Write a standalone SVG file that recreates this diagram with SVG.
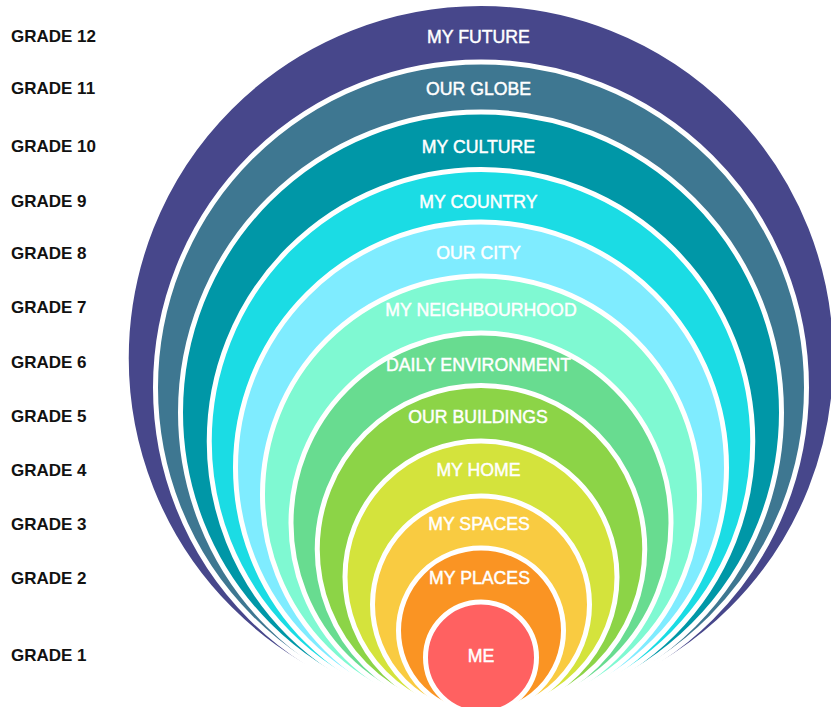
<svg xmlns="http://www.w3.org/2000/svg" width="831" height="707" viewBox="0 0 831 707">
  <style>
    .ring { stroke: #ffffff; stroke-width: 5; }
    .label { font-family: "Liberation Sans", Arial, sans-serif; font-size: 17.7px; fill: #ffffff; stroke: #ffffff; stroke-width: 0.45; text-anchor: middle; }
    .grade { font-family: "Liberation Sans", Arial, sans-serif; font-size: 17px; font-weight: bold; fill: #111111; }
  </style>
  <rect width="831" height="707" fill="#ffffff"/>

  <!-- nested rings, all touching near the bottom centre; drawn outermost first -->
  <g id="ring-12"><circle class="ring" cx="481" cy="358.25" r="354.75" fill="#47478B"/><text class="label" x="478.5" y="42.5">MY FUTURE</text></g>
  <g id="ring-11"><circle class="ring" cx="481" cy="387.5" r="325.5" fill="#3E7791"/><text class="label" x="478.5" y="95">OUR GLOBE</text></g>
  <g id="ring-10"><circle class="ring" cx="481" cy="412.5" r="300.5" fill="#0097A7"/><text class="label" x="478.5" y="152.5">MY CULTURE</text></g>
  <g id="ring-9"><circle class="ring" cx="481" cy="441.25" r="271.75" fill="#1BDCE4"/><text class="label" x="478.5" y="207.5">MY COUNTRY</text></g>
  <g id="ring-8"><circle class="ring" cx="481" cy="467.5" r="245.5" fill="#7FECFF"/><text class="label" x="478.5" y="259.3">OUR CITY</text></g>
  <g id="ring-7"><circle class="ring" cx="481" cy="494.5" r="218.5" fill="#7FF9D2"/><text class="label" x="481" y="316">MY NEIGHBOURHOOD</text></g>
  <g id="ring-6"><circle class="ring" cx="481" cy="523" r="190" fill="#68DC90"/><text class="label" x="478.5" y="370.7">DAILY ENVIRONMENT</text></g>
  <g id="ring-5"><circle class="ring" cx="481" cy="549.25" r="163.75" fill="#8CD447"/><text class="label" x="478" y="422.7">OUR BUILDINGS</text></g>
  <g id="ring-4"><circle class="ring" cx="481" cy="577" r="136" fill="#D4E33C"/><text class="label" x="478.5" y="476">MY HOME</text></g>
  <g id="ring-3"><circle class="ring" cx="481" cy="604.5" r="108.5" fill="#F9CB41"/><text class="label" x="479" y="530">MY SPACES</text></g>
  <g id="ring-2"><circle class="ring" cx="481" cy="630.5" r="82.5" fill="#FA9423"/><text class="label" x="479.5" y="584">MY PLACES</text></g>
  <g id="ring-1"><circle class="ring" cx="481" cy="657.5" r="55.5" fill="#FF6161"/><text class="label" x="481" y="661.5">ME</text></g>

  <!-- grade labels down the left margin -->
  <g id="grades">
    <text class="grade" x="11" y="41.5">GRADE 12</text>
    <text class="grade" x="11" y="94">GRADE 11</text>
    <text class="grade" x="11" y="152">GRADE 10</text>
    <text class="grade" x="11" y="207">GRADE 9</text>
    <text class="grade" x="11" y="259">GRADE 8</text>
    <text class="grade" x="11" y="313">GRADE 7</text>
    <text class="grade" x="11" y="368">GRADE 6</text>
    <text class="grade" x="11" y="422">GRADE 5</text>
    <text class="grade" x="11" y="476">GRADE 4</text>
    <text class="grade" x="11" y="530">GRADE 3</text>
    <text class="grade" x="11" y="584">GRADE 2</text>
    <text class="grade" x="11" y="661">GRADE 1</text>
  </g>
</svg>
